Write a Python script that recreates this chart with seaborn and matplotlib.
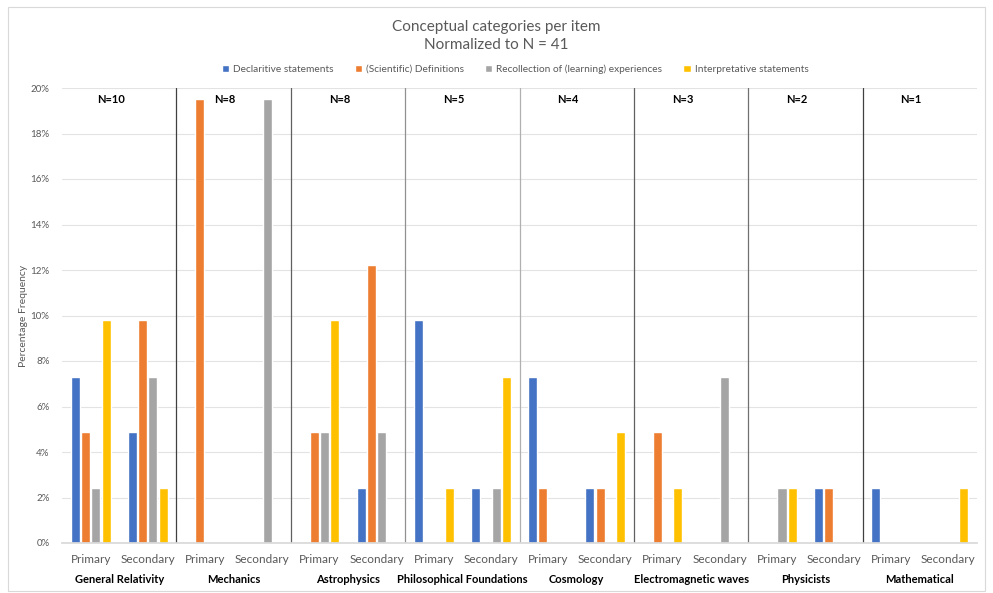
import matplotlib
matplotlib.use("Agg")
import matplotlib.pyplot as plt
import seaborn as sns
import pandas as pd
import numpy as np
from matplotlib.patches import Rectangle

categories = ["General Relativity", "Mechanics", "Astrophysics", "Philosophical Foundations",
              "Cosmology", "Electromagnetic waves", "Physicists", "Mathematical"]
n_labels = ["N=10", "N=8", "N=8", "N=5", "N=4", "N=3", "N=2", "N=1"]
levels = ["Primary", "Secondary"]
series = ["Declaritive statements", "(Scientific) Definitions",
          "Recollection of (learning) experiences", "Interpretative statements"]
colors = ["#4472C4", "#ED7D31", "#A5A5A5", "#FFC000"]

# percentages, order: category x (Primary, Secondary)
declarative = [7.3, 4.9, 0, 0, 0, 2.4, 9.8, 2.4, 7.3, 2.4, 0, 0, 0, 2.4, 2.4, 0]
definitions = [4.9, 9.8, 19.5, 0, 4.9, 12.2, 0, 0, 2.4, 2.4, 4.9, 0, 0, 2.4, 0, 0]
recollection = [2.4, 7.3, 0, 19.5, 4.9, 4.9, 0, 2.4, 0, 0, 0, 7.3, 2.4, 0, 0, 0]
interpretative = [9.8, 2.4, 0, 0, 9.8, 0, 2.4, 7.3, 0, 4.9, 2.4, 0, 2.4, 0, 0, 2.4]

rows = []
keys = []
for ci, c in enumerate(categories):
    for li, l in enumerate(levels):
        keys.append(f"{c}|{l}")
for si, (s, vals) in enumerate(zip(series, [declarative, definitions, recollection, interpretative])):
    for k, v in zip(keys, vals):
        rows.append({"key": k, "series": s, "value": v})
df = pd.DataFrame(rows)

sns.set_theme(style="white")
plt.rcParams["font.family"] = ["Lato", "DejaVu Sans"]

fig = plt.figure(figsize=(9.93, 5.93), dpi=100)
ax = fig.add_axes([62/993, 1-543/593, (977-62)/993, (543-88)/593])

sns.barplot(data=df, x="key", y="value", hue="series", order=keys, hue_order=series,
            palette=colors, width=0.72, gap=0.12, ax=ax, legend=True, saturation=1)

ax.set_ylim(0, 20)
ax.set_xlim(-0.5, len(keys) - 0.5)
yt = np.arange(0, 21, 2)
ax.set_yticks(yt)
ax.set_yticklabels([f"{int(t)}%" for t in yt], fontsize=7, color="#595959")
ax.yaxis.grid(True, color="#E3E3E3", lw=0.8)
ax.set_axisbelow(True)
ax.set_xticks(range(len(keys)))
ax.set_xticklabels([k.split("|")[1] for k in keys], fontsize=8.5, color="#595959")
ax.tick_params(axis="x", length=0, pad=8)
ax.tick_params(axis="y", length=0, pad=9)
for s in ["top", "right", "left"]:
    ax.spines[s].set_visible(False)
ax.spines["bottom"].set_color("#D9D9D9")
ax.set_xlabel("")
ax.set_ylabel("Percentage Frequency", fontsize=7.5, color="#595959")
ax.yaxis.set_label_coords(-0.037, 0.5)

# category labels and N labels and separators
for ci, c in enumerate(categories):
    center = 2 * ci + 0.5
    ax.text(center, -0.08, c, transform=ax.get_xaxis_transform(), ha="center", va="center",
            fontsize=8, fontweight="bold", color="black")
    ax.text(center - 0.15, 0.975, n_labels[ci], transform=ax.get_xaxis_transform(), ha="center",
            va="center", fontsize=8, fontweight="bold", color="black")
sep_colors = ["#404040", "#606060", "#909090", "#B0B0B0", "#606060", "#707070", "#404040"]
for ci in range(1, len(categories)):
    ax.axvline(2 * ci - 0.5, color=sep_colors[ci - 1], lw=0.9, ymin=0, ymax=1)

leg = ax.legend(loc="center", bbox_to_anchor=(515/993, (593-69)/593), bbox_transform=fig.transFigure,
                ncol=4, frameon=False, fontsize=7.3, handlelength=0.7, handleheight=0.7,
                handletextpad=0.4, columnspacing=2.1)
for t in leg.get_texts():
    t.set_color("#595959")

fig.text(0.5, 1-27/593, "Conceptual categories per item", ha="center", va="center",
         fontsize=11, color="#595959")
fig.text(0.5, 1-45/593, "Normalized to N = 41", ha="center", va="center",
         fontsize=11, color="#595959")

fig.patches.append(Rectangle((0.008, 0.004), 0.984, 0.985, transform=fig.transFigure,
                             fill=False, edgecolor="#D9D9D9", lw=0.8))

fig.savefig("out.png", dpi=100)
